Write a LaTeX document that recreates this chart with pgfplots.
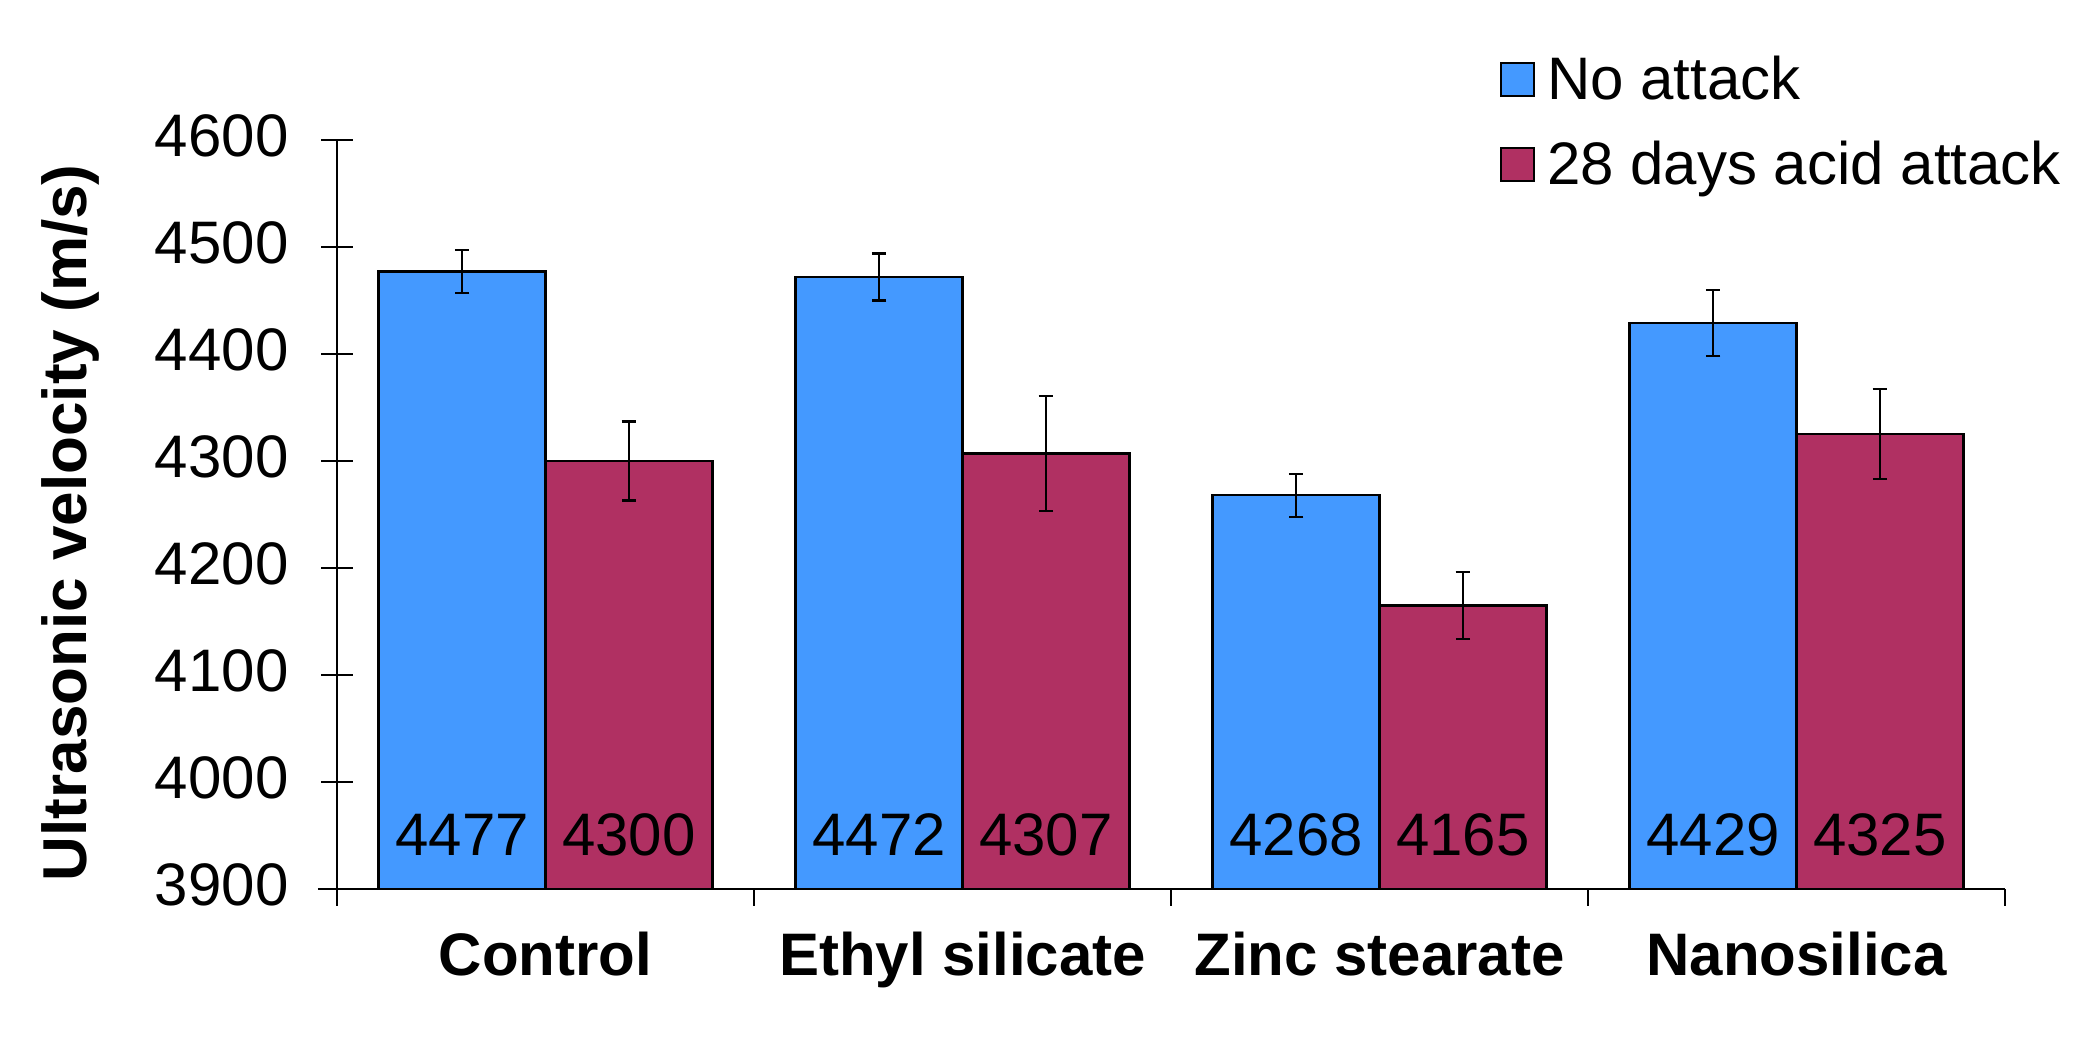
\documentclass[border=0pt]{standalone}
\usepackage{pgfplots}
\pgfplotsset{compat=1.18}
\usepackage{pgfplotstable}
\usepackage{fontspec}
\setmainfont{Liberation Sans}
\definecolor{cblue}{RGB}{68,153,255}
\definecolor{cred}{RGB}{176,48,98}

\pgfplotstableread{
x y e
0 4477 20
1 4472 22
2 4268 20
3 4429 31
}\noattack
\pgfplotstableread{
x y e
0 4300 37
1 4307 54
2 4165 31
3 4325 42
}\acid

\begin{document}
\begin{tikzpicture}
\path[use as bounding box] (0,0) rectangle (1042pt,521pt);
\begin{axis}[
 at={(168.5pt,76.5pt)}, anchor=south west,
 scale only axis, width=834pt, height=374.5pt,
 xmin=-0.5, xmax=3.5, ymin=3900, ymax=4600,
 ytick={3900,4000,...,4600},
 xtick={0,1,2,3},
 xticklabels={Control, Ethyl silicate, Zinc stearate, Nanosilica},
 minor xtick={-0.5,0.5,1.5,2.5,3.5},
 axis lines*=left,
 axis line style={line width=1.1pt},
 x axis line style={shorten <=-9.5pt},
 tick align=center,
 major tick length=15.5pt,
 minor tick length=8.5pt,
 xtick style={draw=none},
 minor x tick style={draw=black, line width=1.1pt, yshift=-4.25pt},
 ytick style={line width=1.1pt, black},
 /pgf/number format/assume math mode=true,
 /pgf/number format/1000 sep={},
 tick label style={font=\fontsize{30}{36}\selectfont, text=black},
 yticklabel style={xshift=-13pt, yshift=2pt},
 xticklabel style={font=\bfseries\fontsize{30}{36}\selectfont, yshift=-10pt},
 ylabel={Ultrasonic velocity (m/s)},
 every axis y label/.style={at={(axis description cs:-0.16,0.489)}, rotate=90, anchor=center, font=\bfseries\fontsize{31}{36}\selectfont},
 clip=false,
 legend style={at={(0.697,1.112)}, anchor=north west, draw=none, fill=none,
   font=\fontsize{30}{36}\selectfont, row sep=19pt, inner sep=0pt,
   nodes={inner xsep=6pt, inner ysep=0pt}},
 legend cell align=left,
 legend image code/.code={\draw[#1, line width=1.1pt] (0pt,-8.25pt) rectangle (16.5pt,8.25pt);},
]
\addplot[ybar, bar width=83.5pt, bar shift=0pt, fill=cblue, draw=black, line width=1.2pt,
  error bars/.cd, y dir=both, y explicit,
  error bar style={line width=1.1pt, black},
  error mark options={rotate=90, mark size=3.6pt, line width=1.1pt, black}]
  table[x expr=\thisrow{x}-0.2, y=y, y error=e]{\noattack};
\addplot[ybar, bar width=83.5pt, bar shift=0pt, fill=cred, draw=black, line width=1.2pt,
  error bars/.cd, y dir=both, y explicit,
  error bar style={line width=1.1pt, black},
  error mark options={rotate=90, mark size=3.6pt, line width=1.1pt, black}]
  table[x expr=\thisrow{x}+0.2, y=y, y error=e]{\acid};
\addplot[forget plot, draw=none, mark=none, nodes near coords, point meta=explicit symbolic,
  every node near coord/.style={anchor=center, yshift=27pt, font=\fontsize{30}{36}\selectfont, text=black}]
  table[x expr=\thisrow{x}-0.2, y expr=3900, meta=y]{\noattack};
\addplot[forget plot, draw=none, mark=none, nodes near coords, point meta=explicit symbolic,
  every node near coord/.style={anchor=center, yshift=27pt, font=\fontsize{30}{36}\selectfont, text=black}]
  table[x expr=\thisrow{x}+0.2, y expr=3900, meta=y]{\acid};
\legend{No attack, 28 days acid attack}
\end{axis}
\end{tikzpicture}
\end{document}
